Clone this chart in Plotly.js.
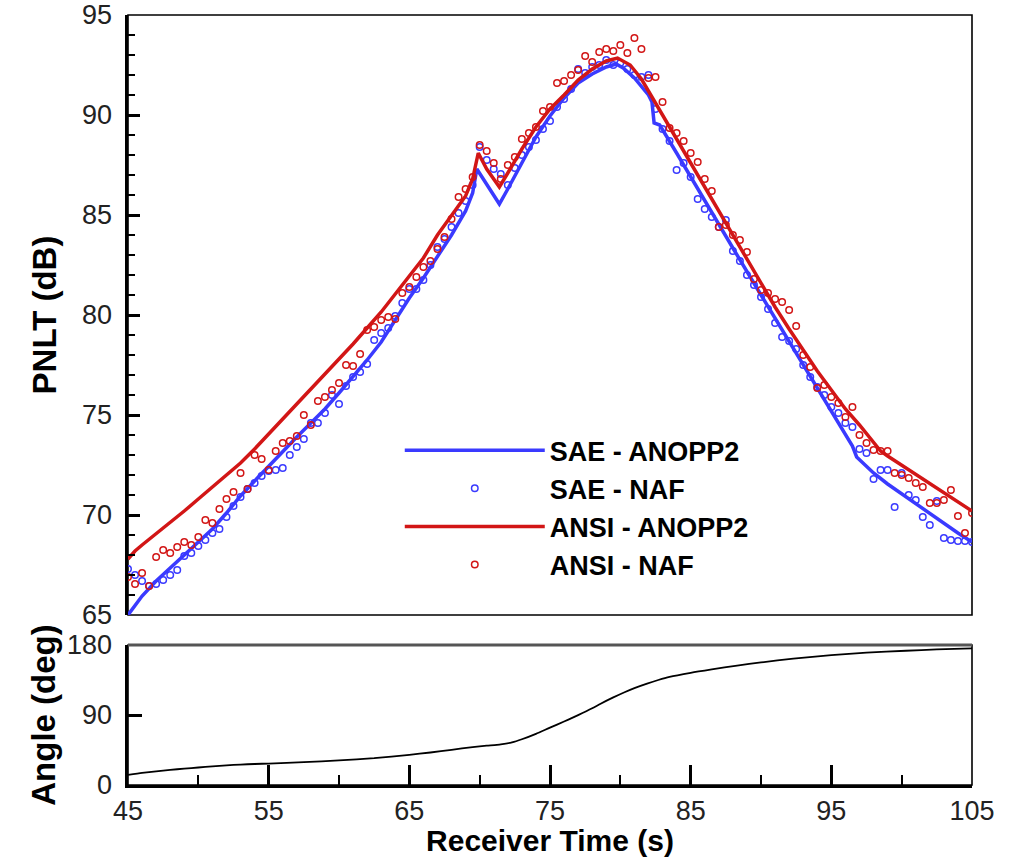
<!DOCTYPE html>
<html>
<head>
<meta charset="utf-8">
<script src="https://cdn.plot.ly/plotly-3.0.1.min.js"></script>
<style>html,body{margin:0;padding:0;background:#fff;}#chart{width:1015px;height:857px;}</style>
</head>
<body>
<div id="chart"></div>
<script>
// ---- SAE - ANOPP2 (line) ----
const saeAnoppTime = [45, 45.5, 46, 47, 48, 49, 50, 51, 52, 53, 54, 55, 56, 57, 58, 59, 60, 61, 62, 63, 64, 65, 66, 67, 68, 69, 69.5, 69.8, 71.4, 72, 73, 74, 75, 76, 77, 78, 79, 79.7, 80.2, 81, 82, 82.25, 82.4, 82.8, 84, 86, 88, 90, 91, 92, 93, 94, 95, 96, 96.5, 96.8, 98, 99, 100, 101, 102, 103, 104, 105];
const saeAnoppPNLT = [65.0, 65.5, 65.95, 66.7, 67.35, 68.0, 68.65, 69.3, 70.1, 70.95, 71.7, 72.45, 73.15, 73.9, 74.6, 75.3, 76.1, 76.9, 77.75, 78.65, 79.75, 80.85, 81.85, 82.9, 84.0, 85.2, 86.1, 87.3, 85.55, 86.3, 87.6, 88.9, 89.95, 90.85, 91.6, 92.05, 92.4, 92.55, 92.35, 91.85, 91.0, 90.65, 89.6, 89.5, 88.1, 85.7, 83.35, 81.0, 79.85, 78.65, 77.5, 76.35, 75.2, 74.05, 73.45, 72.9, 72.1, 71.55, 71.05, 70.55, 70.05, 69.55, 69.1, 68.65];

// ---- ANSI - ANOPP2 (line) ----
const ansiAnoppTime = [45, 45.5, 46, 47, 48, 49, 50, 51, 52, 53, 54, 55, 56, 57, 58, 59, 60, 61, 62, 63, 64, 65, 66, 67, 68, 69, 69.5, 69.9, 70.5, 71.4, 72, 73, 74, 75, 76, 77, 78, 79, 79.8, 80.7, 81.5, 82.1, 83, 84, 85, 86, 87, 88, 89, 90, 91, 92, 93, 94, 95, 96, 97, 98, 98.5, 99, 100, 101, 102, 103, 104, 105];
const ansiAnoppPNLT = [67.8, 68.2, 68.5, 69.05, 69.6, 70.2, 70.8, 71.4, 72.0, 72.6, 73.3, 74.05, 74.8, 75.55, 76.3, 77.0, 77.75, 78.55, 79.35, 80.15, 81.05, 81.95, 82.85, 84.0, 84.95, 85.95, 86.8, 88.1, 87.3, 86.4, 87.1, 88.3, 89.4, 90.3, 91.0, 91.75, 92.3, 92.7, 92.85, 92.5, 91.8, 91.1, 90.0, 88.8, 87.6, 86.4, 85.15, 83.95, 82.75, 81.55, 80.4, 79.3, 78.25, 77.2, 76.25, 75.3, 74.5, 73.6, 73.2, 72.95, 72.5, 72.05, 71.55, 71.1, 70.65, 70.2];

// ---- NAF samples (circles) ----
const nafTime = [45, 45.5, 46, 46.5, 47, 47.5, 48, 48.5, 49, 49.5, 50, 50.5, 51, 51.5, 52, 52.5, 53, 53.5, 54, 54.5, 55, 55.5, 56, 56.5, 57, 57.5, 58, 58.5, 59, 59.5, 60, 60.5, 61, 61.5, 62, 62.5, 63, 63.5, 64, 64.5, 65, 65.5, 66, 66.5, 67, 67.5, 68, 68.5, 69, 69.5, 70, 70.5, 71, 71.5, 72, 72.5, 73, 73.5, 74, 74.5, 75, 75.5, 76, 76.5, 77, 77.5, 78, 78.5, 79, 79.5, 80, 80.5, 81, 81.5, 82, 82.5, 83, 83.5, 84, 84.5, 85, 85.5, 86, 86.5, 87, 87.5, 88, 88.5, 89, 89.5, 90, 90.5, 91, 91.5, 92, 92.5, 93, 93.5, 94, 94.5, 95, 95.5, 96, 96.5, 97, 97.5, 98, 98.5, 99, 99.5, 100, 100.5, 101, 101.5, 102, 102.5, 103, 103.5, 104, 104.5, 105];
const saeNafPNLT = [67.3, 67.0, 66.7, 66.45, 66.55, 66.75, 67.0, 67.25, 67.95, 68.1, 68.45, 68.75, 69.1, 69.3, 69.9, 70.45, 70.9, 71.3, 71.6, 71.95, 72.2, 72.25, 72.35, 73.0, 73.4, 73.8, 74.6, 74.6, 75.1, 76.0, 75.55, 76.45, 76.9, 77.15, 77.55, 78.75, 79.1, 79.35, 79.95, 80.6, 81.3, 81.3, 81.75, 82.5, 83.4, 83.8, 84.4, 85.1, 85.7, 86.5, 88.4, 87.75, 87.3, 87.05, 86.5, 87.35, 88.0, 88.4, 88.75, 89.3, 89.7, 90.4, 90.8, 91.3, 92.3, 92.1, 92.4, 92.5, 92.75, 92.5, 92.6, 92.3, 92.0, 91.9, 92.0, 90.3, 89.3, 88.7, 87.25, 87.6, 86.9, 85.8, 85.3, 84.9, 84.4, 84.75, 83.2, 82.7, 82.0, 81.5, 80.9, 80.3, 79.6, 78.9, 78.7, 78.3, 77.5, 76.9, 76.4, 76.0, 75.4, 75.1, 74.6, 74.4, 73.3, 73.1, 71.8, 72.25, 72.25, 70.4, 72.1, 71.0, 70.75, 69.9, 69.5, 70.7, 68.85, 68.75, 68.7, 68.7, 68.65];
const ansiNafPNLT = [66.9, 66.55, 67.1, 66.45, 67.9, 68.25, 68.1, 68.4, 68.65, 68.5, 68.9, 69.75, 69.6, 70.3, 70.8, 71.15, 72.1, 71.3, 73.0, 72.8, 72.25, 73.2, 73.6, 73.7, 73.95, 75.0, 74.5, 75.7, 75.9, 76.25, 76.6, 77.5, 77.45, 78.05, 79.25, 79.4, 79.75, 79.9, 79.8, 81.1, 81.4, 81.9, 82.4, 82.7, 83.3, 83.9, 84.8, 85.9, 86.3, 86.9, 88.5, 88.2, 87.6, 86.8, 87.5, 87.9, 88.8, 89.1, 89.4, 90.2, 90.4, 91.6, 91.7, 92.0, 92.25, 92.95, 92.65, 93.15, 93.3, 93.2, 93.5, 93.1, 93.85, 93.3, 91.85, 91.9, 90.65, 89.35, 89.1, 88.7, 88.1, 87.65, 86.8, 86.2, 84.4, 84.5, 84.0, 83.75, 83.15, 81.8, 81.25, 81.1, 80.8, 80.65, 80.25, 79.45, 78.0, 77.4, 76.35, 76.5, 75.9, 75.6, 74.9, 75.4, 74.0, 73.6, 73.25, 73.2, 73.2, 72.1, 72.0, 71.85, 71.6, 71.4, 70.6, 70.6, 70.75, 71.25, 69.95, 69.1, 70.1];

// ---- Angle ----
const angleTime = [45, 46, 47, 48, 49, 50, 51, 52, 53, 54, 55, 57.5, 60, 62.5, 65, 66.5, 68, 69.5, 70.5, 71.5, 72.3, 73, 74, 75, 76, 77, 78, 78.6, 79.5, 80.3, 81, 81.9, 82.7, 83.5, 85, 86.5, 88.3, 90, 92.3, 95, 97.5, 100.3, 102.5, 105];
const angleDeg = [13, 15.5, 17.5, 19.5, 21, 22.5, 24, 25.3, 26.3, 27, 27.6, 29.3, 31.6, 34.5, 38.8, 41.8, 45.3, 48.8, 50.6, 52.3, 54.8, 58.8, 65.8, 73.8, 81.6, 89.8, 98.6, 104.5, 112.6, 119.3, 124.6, 130.4, 135.0, 139.0, 144.2, 148.6, 153.5, 157.6, 162.5, 167, 170.2, 172.6, 174.3, 175.7];

const names = ['SAE - ANOPP2', 'SAE - NAF', 'ANSI - ANOPP2', 'ANSI - NAF'];

const BLUE = 'rgb(58,58,255)';
const RED = 'rgb(210,22,22)';
const FONT = '"Liberation Sans", Arial, Helvetica, sans-serif';
const TICKC = '#000';

const traces = [
  {x: saeAnoppTime, y: saeAnoppPNLT, name: names[0], type: 'scatter', mode: 'lines',
   line: {color: BLUE, width: 3.5}, xaxis: 'x', yaxis: 'y'},
  {x: nafTime, y: saeNafPNLT, name: names[1], type: 'scatter', mode: 'markers',
   marker: {symbol: 'circle-open', size: 6.5, color: BLUE, line: {width: 1.5, color: BLUE}}, xaxis: 'x', yaxis: 'y'},
  {x: ansiAnoppTime, y: ansiAnoppPNLT, name: names[2], type: 'scatter', mode: 'lines',
   line: {color: RED, width: 3.5}, xaxis: 'x', yaxis: 'y'},
  {x: nafTime, y: ansiNafPNLT, name: names[3], type: 'scatter', mode: 'markers',
   marker: {symbol: 'circle-open', size: 6.5, color: RED, line: {width: 1.5, color: RED}}, xaxis: 'x', yaxis: 'y'},
  {x: angleTime, y: angleDeg, type: 'scatter', mode: 'lines', showlegend: false,
   line: {color: '#000', width: 1.8, shape: 'spline', smoothing: 0.6}, xaxis: 'x2', yaxis: 'y2'}
];

const topBottom = (785 - 615) / 770;
const botTop = (785 - 645) / 770;

const layout = {
  width: 1015, height: 857,
  margin: {l: 128, r: 43, t: 15, b: 72},
  paper_bgcolor: '#fff', plot_bgcolor: '#fff',
  font: {family: FONT, color: '#000'},
  showlegend: true,
  legend: {x: 0.322, y: 0.466, xanchor: 'left', yanchor: 'top', bgcolor: 'rgba(0,0,0,0)',
           font: {family: FONT, size: 27, color: '#000', weight: 'bold'}, itemwidth: 140, tracegroupgap: 0},
  xaxis: {domain: [0, 1], anchor: 'y', range: [45, 105], showgrid: false, zeroline: false,
          showticklabels: false, ticks: '', showline: false},
  yaxis: {domain: [topBottom, 1], anchor: 'x', range: [65, 95], tick0: 65, dtick: 5,
          showgrid: false, zeroline: false, ticks: 'inside', ticklen: 12, tickwidth: 3, tickcolor: TICKC,
          minor: {ticks: 'inside', ticklen: 7, tickwidth: 2, tickcolor: TICKC, dtick: 1, showgrid: false},
          showline: true, linewidth: 3, linecolor: '#000', ticksuffix: '\u00a0',
          tickfont: {family: FONT, size: 27, color: '#222'},
          title: {text: 'PNLT (dB)', font: {family: FONT, size: 33, weight: 'bold', color: '#000'}, standoff: 16}},
  xaxis2: {domain: [0, 1], anchor: 'y2', range: [45, 105], tick0: 45, dtick: 10,
           showgrid: false, zeroline: false, ticks: 'inside', ticklen: 20, tickwidth: 3, tickcolor: TICKC,
           minor: {ticks: 'inside', ticklen: 10, tickwidth: 2, tickcolor: TICKC, dtick: 5, showgrid: false},
           showline: true, linewidth: 3, linecolor: '#000',
           tickfont: {family: FONT, size: 27, color: '#222'},
           title: {text: 'Receiver Time (s)', font: {family: FONT, size: 30, weight: 'bold', color: '#000'}, standoff: 11}},
  yaxis2: {domain: [0, botTop], anchor: 'x2', range: [0, 180], tick0: 0, dtick: 90,
           showgrid: false, zeroline: false, ticks: 'inside', ticklen: 14, tickwidth: 3, tickcolor: TICKC,
           showline: true, linewidth: 3, linecolor: '#000', ticksuffix: '\u00a0',
           tickfont: {family: FONT, size: 27, color: '#222'},
           title: {text: 'Angle (deg)', font: {family: FONT, size: 33, weight: 'bold', color: '#000'}, standoff: 2}},
  shapes: [
    {type: 'rect', xref: 'x domain', yref: 'y domain', x0: 0, x1: 1, y0: 0, y1: 1,
     line: {color: '#000', width: 1.6}, fillcolor: 'rgba(0,0,0,0)', layer: 'below'},
    {type: 'rect', xref: 'x2 domain', yref: 'y2 domain', x0: 0, x1: 1, y0: 0, y1: 1,
     line: {color: '#000', width: 1.6}, fillcolor: 'rgba(0,0,0,0)', layer: 'below'},
    {type: 'line', xref: 'x2 domain', yref: 'y2 domain', x0: 0, x1: 1, y0: 1, y1: 1,
     line: {color: '#555', width: 3}, layer: 'below'}
  ]
};

Plotly.newPlot('chart', traces, layout, {displayModeBar: false, staticPlot: true});
</script>
</body>
</html>
